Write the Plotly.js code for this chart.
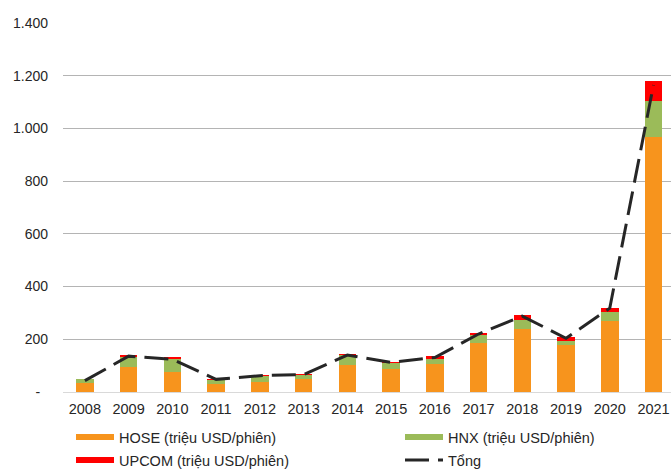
<!DOCTYPE html>
<html>
<head>
<meta charset="utf-8">
<script src="https://cdn.plot.ly/plotly-3.0.1.min.js"></script>
<style>
  html, body { margin: 0; padding: 0; background: #fff; }
  #chart { width: 671px; height: 470px; }
</style>
</head>
<body>
<div id="chart"></div>
<script>
// categories and series (triệu USD/phiên)
const years = ["2008", "2009", "2010", "2011", "2012", "2013", "2014",
               "2015", "2016", "2017", "2018", "2019", "2020", "2021"];
const hose  = [35, 94, 77, 32, 39, 48, 101, 86, 107, 186, 239, 177, 269, 967];
const hnx   = [13, 40, 48, 13, 22, 15, 38, 24, 19, 29, 35, 16, 33, 137];
const upcom = [0, 6, 6, 4, 2, 4, 6, 5, 9, 9, 17, 14, 18, 76];
const tong  = [43, 136, 124, 48, 62, 66, 140, 112, 131, 220, 288, 204, 318, 1165];

const yTicks = [0, 200, 400, 600, 800, 1000, 1200, 1400];
const yTickText = ["-\u2007", "200", "400", "600", "800", "1.000", "1.200", "1.400"];

const FONT = "Liberation Sans, Arial, sans-serif";
const colors = { hose: "#F7941D", hnx: "#9BBB59", upcom: "#FF0000", tong: "#262626" };

const traces = [
  { type: "bar", x: years, y: hose, marker: { color: colors.hose }, showlegend: false, name: "HOSE" },
  { type: "bar", x: years, y: hnx, marker: { color: colors.hnx }, showlegend: false, name: "HNX" },
  { type: "bar", x: years, y: upcom, marker: { color: colors.upcom }, showlegend: false, name: "UPCOM" },
  { type: "scatter", mode: "lines", x: years, y: tong, name: "Tổng",
    line: { color: colors.tong, width: 3, dash: "24px,9px" }, legend: "legend4" },
  // legend-only entries (line swatches like the original)
  { type: "scatter", mode: "lines", x: [null], y: [null], name: "HOSE (triệu USD/phiên)",
    line: { color: colors.hose, width: 6 }, legend: "legend" },
  { type: "scatter", mode: "lines", x: [null], y: [null], name: "HNX (triệu USD/phiên)",
    line: { color: colors.hnx, width: 6 }, legend: "legend2" },
  { type: "scatter", mode: "lines", x: [null], y: [null], name: "UPCOM (triệu USD/phiên)",
    line: { color: colors.upcom, width: 6 }, legend: "legend3" }
];

// one legend box per entry so the 2x2 grid sits where the original has it
function legendAt(px, py) {
  return {
    xref: "container", yref: "container",
    x: px / 671, y: 1 - py / 470,
    xanchor: "left", yanchor: "middle",
    font: { family: FONT, size: 14.5, color: "#262626" },
    itemwidth: 38,
    bgcolor: "rgba(0,0,0,0)"
  };
}

const layout = {
  width: 671,
  height: 470,
  barmode: "stack",
  bargap: 0.6,
  paper_bgcolor: "#fff",
  plot_bgcolor: "#fff",
  margin: { l: 63, r: 0, t: 23, b: 78, autoexpand: false },
  font: { family: FONT, color: "#262626" },
  xaxis: {
    type: "category",
    range: [-0.5, 13.4],
    showgrid: false,
    showline: false,
    zeroline: false,
    automargin: false,
    tickfont: { family: FONT, size: 14.5, color: "#262626" },
    ticklabelstandoff: 6
  },
  yaxis: {
    range: [0, 1400],
    tickvals: yTicks,
    ticktext: yTickText,
    showgrid: true,
    gridcolor: "#b4b4b4",
    gridwidth: 1,
    zeroline: true,
    zerolinecolor: "#d9d9d9",
    zerolinewidth: 1,
    automargin: false,
    tickfont: { family: FONT, size: 14, color: "#262626" },
    ticklabelstandoff: 14
  },
  legend: legendAt(71, 437),
  legend2: legendAt(400, 437),
  legend3: legendAt(71, 460),
  legend4: legendAt(400, 460),
  showlegend: true
};

Plotly.newPlot("chart", traces, layout, { displayModeBar: false, staticPlot: true });
</script>
</body>
</html>
